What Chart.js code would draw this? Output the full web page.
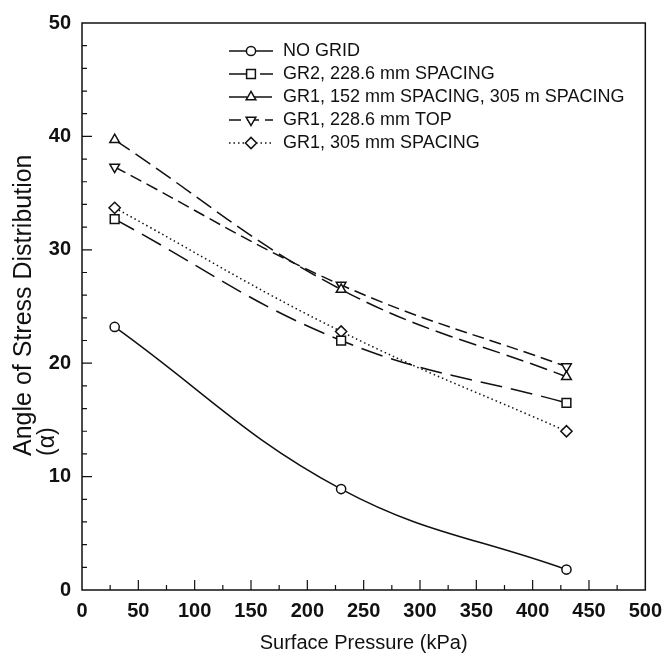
<!DOCTYPE html>
<html>
<head>
<meta charset="utf-8">
<script src="https://cdn.jsdelivr.net/npm/chart.js"></script>
<style>
  body { margin: 0; background: #fff; }
  canvas { display: block; }
</style>
</head>
<body>
<canvas id="chart" width="671" height="662"></canvas>
<script>
// surface pressure (kPa) and angle of stress distribution (deg)
const pressure = [29, 230, 430];
const noGrid = [23.2, 8.9, 1.8];
const gr2Spacing = [32.7, 22.0, 16.5];
const gr1Spacing152 = [39.7, 26.5, 18.8];
const gr1Top = [37.3, 26.9, 19.7];
const gr1Spacing305 = [33.7, 22.8, 14.0];

const seriesNames = [
  'NO GRID',
  'GR2, 228.6 mm SPACING',
  'GR1, 152 mm SPACING, 305 m SPACING',
  'GR1, 228.6 mm TOP',
  'GR1, 305 mm SPACING'
];
const xTicks = [0, 50, 100, 150, 200, 250, 300, 350, 400, 450, 500];
const yTicks = [0, 10, 20, 30, 40, 50];

const ink = '#111';
const family = "'Liberation Sans', Arial, sans-serif";

function series(label, values, style, radius, dash, rotation) {
  return {
    label: label,
    data: pressure.map((p, i) => ({ x: p, y: values[i] })),
    borderColor: ink,
    borderWidth: 1.5,
    borderDash: dash,
    tension: 0.4,
    fill: false,
    pointStyle: style,
    pointRadius: radius,
    pointRotation: rotation || 0,
    pointBackgroundColor: '#fff',
    pointBorderColor: ink,
    pointBorderWidth: 1.5
  };
}

// box, inward ticks, legend and y title
const frame = {
  id: 'frame',
  beforeDatasetsDraw(chart) {
    const ctx = chart.ctx, a = chart.chartArea;
    const xs = chart.scales.x, ys = chart.scales.y;
    ctx.save();
    ctx.strokeStyle = ink;
    ctx.lineWidth = 1.2;
    ctx.beginPath();
    for (let v = 25; v < 500; v += 25) {
      const px = xs.getPixelForValue(v);
      const len = v % 50 === 0 ? 10 : 5;
      ctx.moveTo(px, a.bottom);
      ctx.lineTo(px, a.bottom - len);
    }
    for (let v = 2; v < 50; v += 2) {
      const py = ys.getPixelForValue(v);
      const len = v % 10 === 0 ? 10 : 5;
      ctx.moveTo(a.left, py);
      ctx.lineTo(a.left + len, py);
    }
    ctx.stroke();
    ctx.lineWidth = 1.5;
    ctx.strokeRect(a.left, a.top, a.right - a.left, a.bottom - a.top);
    ctx.restore();
  },
  afterDraw(chart) {
    const ctx = chart.ctx;
    ctx.save();
    chart.data.datasets.forEach((ds, i) => {
      const y = 51 + i * 23;
      ctx.strokeStyle = ink;
      ctx.lineWidth = 1.5;
      ctx.setLineDash(ds.borderDash || []);
      ctx.beginPath();
      ctx.moveTo(229, y);
      ctx.lineTo(273, y);
      ctx.stroke();
      ctx.setLineDash([]);
      ctx.fillStyle = '#fff';
      Chart.helpers.drawPoint(ctx, {
        pointStyle: ds.pointStyle,
        radius: ds.pointRadius,
        rotation: ds.pointRotation,
        borderWidth: 1.5
      }, 251, y);
      ctx.fillStyle = ink;
      ctx.font = '18px ' + family;
      ctx.textAlign = 'left';
      ctx.textBaseline = 'middle';
      ctx.fillText(ds.label, 283, y);
    });

    // y axis title, two lines
    ctx.fillStyle = ink;
    ctx.font = '25px ' + family;
    ctx.textBaseline = 'middle';
    ctx.textAlign = 'left';
    ctx.translate(0, 456);
    ctx.rotate(-Math.PI / 2);
    ctx.fillText('Angle of Stress Distribution', 0, 24);
    ctx.font = '23px ' + family;
    ctx.fillText('(\u03b1)', 0, 48);
    ctx.restore();
  }
};

const ctx = document.getElementById('chart').getContext('2d');
const chart = new Chart(ctx, {
  type: 'line',
  data: {
    datasets: [
      series(seriesNames[0], noGrid, 'circle', 4.6, []),
      series(seriesNames[1], gr2Spacing, 'rect', 6.2, [22, 9]),
      series(seriesNames[2], gr1Spacing152, 'triangle', 5.6, [18, 7]),
      series(seriesNames[3], gr1Top, 'triangle', 5.6, [12, 6], 180),
      series(seriesNames[4], gr1Spacing305, 'rectRot', 5.6, [1.5, 3])
    ]
  },
  options: {
    responsive: false,
    animation: false,
    layout: { padding: { top: 23, right: 21, left: 0, bottom: 0 } },
    plugins: {
      legend: { display: false },
      tooltip: { enabled: false }
    },
    scales: {
      x: {
        type: 'linear',
        min: 0,
        max: 500,
        afterBuildTicks: (s) => { s.ticks = xTicks.map(v => ({ value: v })); },
        afterFit: (s) => { s.height = 72; },
        grid: { display: false, drawTicks: false },
        border: { display: false },
        ticks: {
          padding: 9,
          color: ink,
          maxRotation: 0,
          font: { family: family, size: 20, weight: 'bold' }
        },
        title: {
          display: true,
          text: 'Surface Pressure (kPa)',
          color: ink,
          padding: { top: 0, bottom: 7 },
          font: { family: family, size: 20 }
        }
      },
      y: {
        min: 0,
        max: 50,
        afterBuildTicks: (s) => { s.ticks = yTicks.map(v => ({ value: v })); },
        afterFit: (s) => { s.width = 82; },
        grid: { display: false, drawTicks: false },
        border: { display: false },
        ticks: {
          padding: 11,
          color: ink,
          font: { family: family, size: 20, weight: 'bold' }
        }
      }
    }
  },
  plugins: [frame]
});
</script>
</body>
</html>
